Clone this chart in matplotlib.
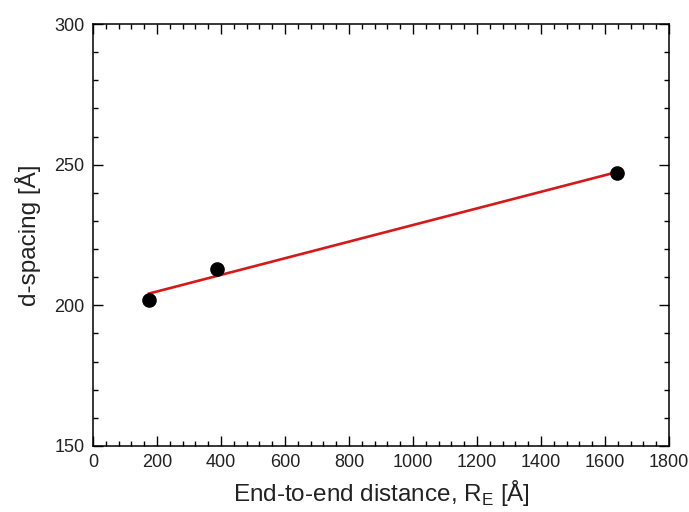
import numpy as np
import matplotlib
matplotlib.use("Agg")
import matplotlib.pyplot as plt
from matplotlib.ticker import MultipleLocator

plt.rcParams['font.family'] = ['Liberation Sans', 'DejaVu Sans']
plt.rcParams['mathtext.fontset'] = 'custom'
plt.rcParams['mathtext.rm'] = 'Liberation Sans'

# End-to-end distance R_E [Å] and measured d-spacing [Å]
end_to_end = np.array([175, 387, 1637])
d_spacing = np.array([202, 213, 247])

fig = plt.figure(figsize=(6.89, 5.12), dpi=100)
ax = fig.add_axes([0.135, 0.129, 0.836, 0.824])

# linear fit through the data
slope, intercept = np.polyfit(end_to_end, d_spacing, 1)
xfit = np.array([end_to_end.min(), end_to_end.max()])
ax.plot(xfit, slope * xfit + intercept, color='#d61818', lw=1.9, zorder=2)
ax.plot(end_to_end, d_spacing, 'o', color='black', ms=9.5, zorder=3)

ax.set_xlim(0, 1800)
ax.set_ylim(150, 300)
ax.xaxis.set_major_locator(MultipleLocator(200))
ax.xaxis.set_minor_locator(MultipleLocator(40))
ax.yaxis.set_major_locator(MultipleLocator(50))
ax.yaxis.set_minor_locator(MultipleLocator(10))
ax.tick_params(which='both', direction='in', top=True, right=True,
               labelsize=13, width=1, labelcolor='#222222')
ax.tick_params(which='major', length=7, pad=6)
ax.tick_params(which='minor', length=3.5)
for s in ax.spines.values():
    s.set_linewidth(1.1)

ax.set_xlabel('End-to-end distance, R$_\\mathregular{E}$ [Å]', fontsize=17.5, labelpad=5,
              color='#222222')
ax.set_ylabel('d-spacing [Å]', fontsize=17.5, labelpad=10, color='#222222')

fig.savefig('out.png', dpi=100)
